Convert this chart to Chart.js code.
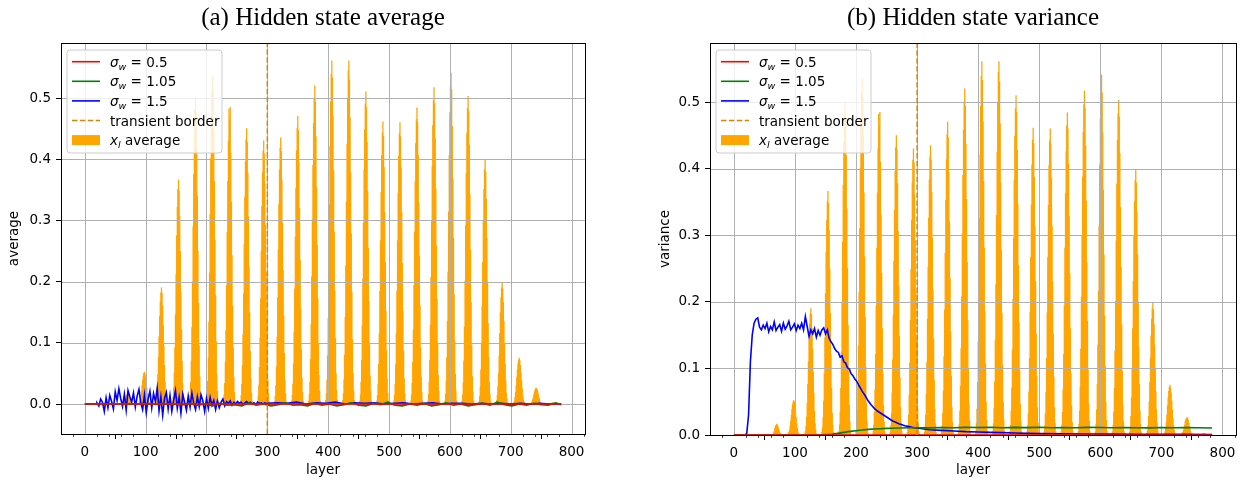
<!DOCTYPE html>
<html>
<head>
<meta charset="utf-8">
<script src="https://cdn.jsdelivr.net/npm/chart.js@4.4.1/dist/chart.umd.min.js"></script>
<style>
  body { margin: 0; background: #fff; }
  #wrap { position: relative; width: 1241px; height: 480px; }
  canvas { position: absolute; top: 0; }
</style>
</head>
<body>
<div id="wrap">
  <canvas id="avgChart" width="620" height="480" style="left:0"></canvas>
  <canvas id="varChart" width="590" height="480" style="left:651px"></canvas>
</div>
<script>
// x_l average, one line per row of 28 layers (layer = 28*row + column)
const xlAverageRows = [
  [0,0,0,0, 0,0,0,0,0,0,0,0,0,0,0,0,0,0,0,0,0,0,0,0, 0,0,0,0],
  [0,0,0,0, 0,0,0,0,0,0,0,0,0,0,0,0,0,0,0,0,0,0,0,0, 0,0,0,0],
  [0,0,0,0, 0,0,0,0,.001,.003,.006,.01,.013,.015,.016,.015,.013,.01,.007,.004,.002,.001,0,0, 0,0,0,0],
  [0,0,0,0, .001,.002,.004,.007,.013,.021,.03,.039,.046,.05,.052,.049,.044,.035,.026,.017,.01,.005,.002,.001, 0,0,0,0],
  [0,0,0,0, .002,.006,.013,.027,.048,.076,.11,.143,.167,.182,.19,.181,.16,.129,.095,.063,.036,.017,.008,.002, 0,0,0,0],
  [0,0,0,0, .004,.011,.026,.051,.092,.146,.212,.275,.322,.351,.366,.348,.307,.249,.183,.121,.07,.033,.015,.004, 0,0,0,0],
  [0,0,0,0, .005,.015,.035,.07,.125,.2,.29,.375,.44,.48,.5,.475,.42,.34,.25,.165,.095,.045,.02,.005, 0,0,0,0],
  [0,0,0,0, .005,.016,.037,.075,.134,.214,.31,.401,.471,.514,.535,.508,.449,.364,.268,.177,.102,.048,.021,.005, 0,0,0,0],
  [0,0,0,0, .005,.015,.034,.068,.121,.194,.281,.364,.43,.482,.465,.485,.41,.33,.243,.16,.092,.044,.019,.005, 0,0,0,0],
  [0,0,0,0, .005,.014,.032,.063,.113,.18,.261,.338,.396,.432,.45,.428,.378,.306,.225,.149,.086,.041,.018,.005, 0,0,0,0],
  [0,0,0,0, .004,.013,.03,.06,.108,.172,.249,.323,.378,.413,.43,.409,.361,.292,.215,.142,.082,.039,.017,.004, 0,0,0,0],
  [0,0,0,0, .004,.013,.03,.061,.109,.174,.252,.326,.383,.418,.435,.413,.365,.296,.218,.144,.083,.039,.017,.004, 0,0,0,0],
  [0,0,0,0, .005,.014,.033,.066,.118,.188,.273,.353,.414,.451,.47,.447,.395,.32,.235,.155,.089,.042,.019,.005, 0,0,0,0],
  [0,0,0,0, .005,.016,.036,.073,.13,.208,.302,.39,.458,.499,.52,.494,.437,.354,.26,.172,.099,.047,.021,.005, 0,0,0,0],
  [0,0,0,0, .006,.017,.039,.079,.14,.224,.325,.421,.494,.539,.561,.533,.471,.381,.281,.185,.107,.05,.022,.006, 0,0,0,0],
  [0,0,0,0, .006,.017,.04,.08,.142,.226,.33,.425,.5,.545,.561,.53,.468,.378,.278,.183,.105,.05,.022,.006, 0,0,0,0],
  [0,0,0,0, .005,.015,.036,.071,.128,.204,.296,.383,.449,.49,.51,.485,.428,.347,.255,.168,.097,.046,.02,.005, 0,0,0,0],
  [0,0,0,0, .005,.014,.032,.065,.115,.184,.267,.346,.406,.443,.461,.438,.387,.313,.231,.152,.088,.041,.018,.005, 0,0,0,0],
  [0,0,0,0, .005,.014,.032,.064,.115,.184,.267,.345,.405,.442,.46,.437,.386,.313,.23,.152,.087,.041,.018,.005, 0,0,0,0],
  [0,0,0,0, .005,.015,.034,.068,.121,.194,.281,.363,.426,.465,.484,.46,.407,.329,.242,.16,.092,.044,.019,.005, 0,0,0,0],
  [0,0,0,0, .005,.016,.036,.072,.129,.207,.3,.388,.455,.496,.517,.491,.434,.352,.259,.171,.098,.047,.021,.005, 0,0,0,0],
  [0,0,0,0, .005,.016,.038,.076,.135,.216,.314,.406,.476,.519,.541,.514,.454,.368,.271,.179,.103,.049,.022,.005, 0,0,0,0],
  [0,0,0,0, .005,.015,.035,.07,.126,.201,.292,.377,.443,.483,.503,.478,.423,.342,.252,.166,.096,.045,.02,.005, 0,0,0,0],
  [0,0,0,0, .004,.012,.028,.056,.1,.16,.231,.299,.351,.383,.399,.379,.335,.271,.2,.132,.076,.036,.016,.004, 0,0,0,0],
  [0,0,0,0, .002,.006,.014,.028,.05,.079,.115,.149,.174,.19,.198,.188,.166,.135,.099,.065,.038,.018,.008,.002, 0,0,0,0],
  [0,0,0,0, .001,.002,.005,.011,.019,.03,.044,.056,.066,.072,.075,.071,.063,.051,.038,.025,.014,.007,.003,.001, 0,0,0,0],
  [0,0,0,0, 0,.001,.002,.004,.007,.01,.015,.02,.023,.025,.026,.025,.022,.018,.013,.009,.005,.002,.001,0, 0,0,0,0],
  [0,0,0,0, 0,0,0,0,0,.001,.001,.001,.002,.002,.002,.002,.001,.001,.001,0,0,0,0,0, 0,0,0,0]
];

// [layer, value] pairs
const redAvg = [[0,0],[783,0]];
const greenAvg = [[0,0],[150,0],[162,-.001],[174,.001],[186,-.002],[198,0],[210,-.003],[222,.001],[234,-.002],[246,-.001],[258,-.003],[270,.002],[282,-.002],[294,0],[306,-.003],[318,-.001],[330,.002],[342,-.002],[354,-.001],[366,-.003],[378,.001],[390,-.002],[402,0],[414,-.003],[426,-.001],[438,.002],[450,-.002],[462,-.003],[474,.001],[486,-.001],[498,.003],[510,-.002],[522,-.003],[534,0],[546,-.002],[558,.001],[570,-.003],[582,-.001],[594,.002],[606,-.002],[618,0],[630,-.003],[642,-.001],[654,.001],[666,-.002],[678,.003],[690,-.001],[702,-.003],[714,0],[726,-.002],[738,.001],[750,-.001],[762,-.002],[774,.002],[783,-.001]];
const blueAvg = [[0,0],[19,0],[20,.002],[23,-.003],[26,.008],[29,.003],[32,-.012],[35,.010],[38,-.006],[41,.014],[44,.004],[47,-.008],[50,.020],[53,.006],[56,.025],[59,.009],[62,-.004],[65,.016],[68,-.010],[71,.022],[74,.012],[77,.003],[80,.018],[83,-.005],[86,.013],[89,.024],[92,.002],[95,-.009],[98,.015],[101,-.014],[104,.008],[107,.021],[110,-.006],[113,.017],[116,.004],[119,.026],[122,-.011],[125,.012],[128,-.018],[131,.009],[134,.019],[137,-.008],[140,.014],[143,-.012],[146,.006],[149,.022],[152,-.007],[155,.011],[158,-.015],[161,.016],[164,.003],[167,-.010],[170,.013],[173,-.005],[176,.018],[179,.001],[182,-.009],[185,.012],[188,-.004],[191,.015],[194,.005],[197,-.012],[200,.009],[203,-.007],[206,.011],[209,-.002],[212,.006],[215,-.009],[218,.005],[221,-.006],[224,.003],[227,.008],[230,-.003],[233,.004],[236,.001],[239,.005],[242,-.002],[245,.003],[248,0],[251,.004],[254,.001],[257,.003],[260,-.001],[263,.002],[266,.004],[269,.001],[272,.003],[275,0],[278,.002],[281,-.001],[284,.003],[287,.001],[290,.002],[293,0],[296,.002],[299,.001],[316,.002],[332,.001],[348,.003],[364,0],[380,.002],[396,.001],[412,.003],[428,0],[444,.002],[460,.001],[476,.002],[492,0],[508,.001],[524,.002],[540,0],[556,.001],[572,.002],[588,0],[604,.001],[620,.001],[636,0],[652,.001],[668,0],[684,.001],[700,0],[716,.001],[732,0],[748,.001],[764,0],[783,0]];

const redVar = [[0,0],[783,0]];
const greenVar = [[0,0],[140,0],[150,.0005],[160,.001],[170,.0025],[180,.004],[190,.0055],[200,.0065],[210,.0075],[220,.0085],[230,.009],[240,.0095],[250,.01],[260,.0102],[270,.0105],[285,.0108],[300,.011],[320,.0107],[340,.0112],[360,.011],[380,.0115],[400,.0112],[420,.0116],[440,.011],[460,.0114],[480,.0111],[500,.0116],[520,.011],[540,.0113],[560,.0109],[580,.0114],[600,.0112],[620,.0108],[640,.0113],[660,.011],[680,.0107],[700,.0112],[720,.0109],[740,.0113],[760,.0108],[783,.0106]];
const blueVar = [[0,0],[18,0],[21,.002],[24,.03],[27,.11],[30,.15],[33,.168],[36,.174],[39,.176],[42,.162],[45,.158],[48,.165],[51,.16],[54,.168],[57,.155],[60,.163],[63,.158],[66,.17],[69,.157],[72,.162],[75,.166],[78,.156],[81,.168],[84,.159],[87,.164],[90,.171],[93,.158],[96,.162],[99,.167],[102,.157],[105,.165],[108,.16],[111,.168],[114,.158],[117,.178],[120,.163],[123,.148],[126,.158],[129,.152],[132,.16],[135,.147],[138,.157],[141,.15],[144,.158],[147,.161],[150,.152],[153,.158],[156,.145],[159,.14],[162,.136],[165,.13],[168,.126],[171,.124],[174,.117],[177,.119],[180,.11],[183,.108],[186,.101],[189,.099],[192,.092],[195,.089],[198,.084],[201,.081],[205,.074],[210,.066],[215,.059],[220,.051],[225,.045],[230,.04],[235,.036],[240,.033],[245,.03],[250,.027],[255,.024],[260,.021],[265,.019],[270,.017],[275,.0155],[280,.014],[285,.013],[290,.012],[295,.011],[300,.0105],[320,.008],[340,.007],[360,.006],[380,.005],[400,.0045],[420,.004],[440,.0035],[460,.003],[480,.0025],[500,.002],[540,.0018],[580,.0015],[620,.0013],[660,.0011],[700,.001],[740,.0009],[783,.0008]];

const transientLayer = 300;
const xTickValues = [0, 100, 200, 300, 400, 500, 600, 700, 800];
const yTickValues = [0, 0.1, 0.2, 0.3, 0.4, 0.5];

// legend entries: italic symbol, italic subscript, plain rest
const legendEntries = [
  { sym: 'σ', sub: 'w', rest: ' = 0.5', color: '#ff0000', kind: 'line' },
  { sym: 'σ', sub: 'w', rest: ' = 1.05', color: '#008000', kind: 'line' },
  { sym: 'σ', sub: 'w', rest: ' = 1.5', color: '#0000ff', kind: 'line' },
  { sym: '', sub: '', rest: 'transient border', color: '#d4860b', kind: 'dash' },
  { sym: 'x', sub: 'l', rest: ' average', color: '#ffa500', kind: 'patch' }
];

const ORANGE = '#ffa500';
const FONT = '"DejaVu Sans"';
Chart.defaults.font.family = FONT;
Chart.defaults.font.size = 13.5;
Chart.defaults.color = '#000';

function drawLegend(ctx, area) {
  const x0 = area.left + 6, y0 = area.top + 7, w = 155, h = 103, r = 3;
  ctx.save();
  ctx.beginPath();
  ctx.moveTo(x0 + r, y0);
  ctx.arcTo(x0 + w, y0, x0 + w, y0 + h, r);
  ctx.arcTo(x0 + w, y0 + h, x0, y0 + h, r);
  ctx.arcTo(x0, y0 + h, x0, y0, r);
  ctx.arcTo(x0, y0, x0 + w, y0, r);
  ctx.closePath();
  ctx.fillStyle = 'rgba(255,255,255,0.8)';
  ctx.fill();
  ctx.strokeStyle = '#cccccc';
  ctx.lineWidth = 1;
  ctx.stroke();

  legendEntries.forEach((e, i) => {
    const cy = y0 + 11.7 + i * 19.6;
    if (e.kind === 'patch') {
      ctx.fillStyle = e.color;
      ctx.fillRect(x0 + 5, cy - 5, 28, 10);
    } else {
      ctx.beginPath();
      ctx.setLineDash(e.kind === 'dash' ? [5.5, 2.4] : []);
      ctx.strokeStyle = e.color;
      ctx.lineWidth = 1.6;
      ctx.moveTo(x0 + 5, cy);
      ctx.lineTo(x0 + 33, cy);
      ctx.stroke();
      ctx.setLineDash([]);
    }
    let tx = x0 + 43;
    const base = cy + 5;
    ctx.fillStyle = '#000';
    ctx.textAlign = 'left';
    ctx.textBaseline = 'alphabetic';
    if (e.sym) {
      ctx.font = 'italic 13.5px ' + FONT;
      ctx.fillText(e.sym, tx, base);
      tx += ctx.measureText(e.sym).width;
      ctx.font = 'italic 9.5px ' + FONT;
      ctx.fillText(e.sub, tx, base + 3);
      tx += ctx.measureText(e.sub).width;
    }
    ctx.font = '13.5px ' + FONT;
    ctx.fillText(e.rest, tx, base);
  });
  ctx.restore();
}

function makePanel(canvasId, p) {
  const xlBars = xlAverageRows.flat().map((v, i) => ({ x: i, y: v }));
  const pts = arr => arr.map(([x, y]) => ({ x, y }));
  const lineDs = (data, color, order) => ({
    type: 'line', data: pts(data), borderColor: color, borderWidth: 1.6,
    pointRadius: 0, fill: false, tension: 0, order
  });

  const deco = {
    id: 'deco' + canvasId,
    afterDatasetDraw(chart, args) {
      if (args.index !== 0) return; // grid goes over the bars, under the lines
      const { ctx, chartArea: a, scales: { x, y } } = chart;
      ctx.save();
      ctx.strokeStyle = '#b0b0b0';
      ctx.lineWidth = 1;
      ctx.beginPath();
      xTickValues.forEach(v => {
        const px = Math.round(x.getPixelForValue(v)) + 0.5;
        ctx.moveTo(px, a.top); ctx.lineTo(px, a.bottom);
      });
      yTickValues.forEach(v => {
        const py = Math.round(y.getPixelForValue(v)) + 0.5;
        ctx.moveTo(a.left, py); ctx.lineTo(a.right, py);
      });
      ctx.stroke();
      ctx.restore();
    },
    afterDraw(chart) {
      const { ctx, chartArea: a, scales: { x } } = chart;
      ctx.save();
      // minor ticks every 20 layers
      ctx.strokeStyle = '#000';
      ctx.lineWidth = 0.8;
      ctx.beginPath();
      for (let v = -20; v <= 820; v += 20) {
        if (v % 100 === 0) continue;
        const px = Math.round(x.getPixelForValue(v)) + 0.5;
        ctx.moveTo(px, a.bottom); ctx.lineTo(px, a.bottom + 2.8);
      }
      ctx.stroke();
      // frame
      ctx.lineWidth = 1;
      const l = Math.round(a.left) + 0.5, t = Math.round(a.top) + 0.5;
      ctx.strokeRect(l, t, Math.round(a.right) - Math.round(a.left), Math.round(a.bottom) - Math.round(a.top));
      // title
      ctx.font = '25px "Liberation Serif"';
      ctx.fillStyle = '#000';
      ctx.textAlign = 'center';
      ctx.textBaseline = 'alphabetic';
      ctx.fillText(p.title, (a.left + a.right) / 2, 25);
      ctx.restore();
      drawLegend(ctx, a);
    }
  };

  new Chart(document.getElementById(canvasId), {
    type: 'bar',
    data: {
      datasets: [
        { type: 'bar', data: xlBars, backgroundColor: ORANGE, borderWidth: 0,
          barPercentage: 1, categoryPercentage: 1, order: 5 },
        lineDs(p.blue, '#0000ff', 4),
        lineDs(p.green, '#008000', 3),
        lineDs(p.red, '#ff0000', 2),
        { type: 'line', data: [{ x: transientLayer, y: p.yMin }, { x: transientLayer, y: p.yMax }],
          borderColor: '#d4860b', borderWidth: 1.5, borderDash: [5.5, 2.4],
          pointRadius: 0, fill: false, order: 1 }
      ]
    },
    options: {
      responsive: false,
      animation: false,
      events: [],
      layout: { padding: { left: 0, right: p.padRight, top: 43, bottom: 0 } },
      plugins: { legend: { display: false }, tooltip: { enabled: false } },
      scales: {
        x: {
          type: 'linear', min: -39.15, max: 822.15, offset: false,
          afterBuildTicks: s => { s.ticks = xTickValues.map(v => ({ value: v })); },
          afterFit: s => { s.height = p.xAxisHeight; },
          ticks: { autoSkip: false, maxRotation: 0, padding: 5, color: '#000',
                   callback: v => String(v) },
          grid: { drawOnChartArea: false, tickLength: 5, tickColor: '#000', tickWidth: 1 },
          border: { display: false },
          title: { display: true, text: 'layer', color: '#000', padding: { top: 0, bottom: 1 } }
        },
        y: {
          type: 'linear', min: p.yMin, max: p.yMax,
          afterBuildTicks: s => { s.ticks = yTickValues.map(v => ({ value: v })); },
          afterFit: s => { s.width = p.yAxisWidth; },
          ticks: { padding: 5, color: '#000', callback: v => v.toFixed(1) },
          grid: { drawOnChartArea: false, tickLength: 5, tickColor: '#000', tickWidth: 1 },
          border: { display: false },
          title: { display: true, text: p.yTitle, color: '#000', padding: { top: 6, bottom: 0 } }
        }
      }
    },
    plugins: [deco]
  });
}

makePanel('avgChart', {
  title: '(a) Hidden state average', yTitle: 'average',
  red: redAvg, green: greenAvg, blue: blueAvg,
  yMin: -0.049, yMax: 0.590, yAxisWidth: 61, xAxisHeight: 46, padRight: 35
});
makePanel('varChart', {
  title: '(b) Hidden state variance', yTitle: 'variance',
  red: redVar, green: greenVar, blue: blueVar,
  yMin: 0, yMax: 0.589, yAxisWidth: 59, xAxisHeight: 45, padRight: 5
});
</script>
</body>
</html>
